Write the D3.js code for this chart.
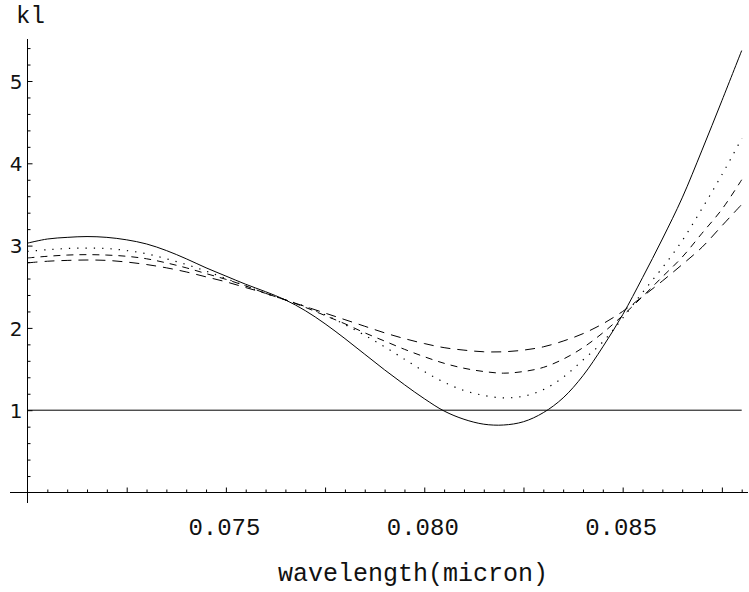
<!DOCTYPE html>
<html>
<head>
<meta charset="utf-8">
<script src="https://cdn.jsdelivr.net/npm/d3@7"></script>
<style>
  html, body { margin: 0; padding: 0; background: #fff; }
  svg { display: block; }
</style>
</head>
<body>
<svg id="chart" width="749" height="592"></svg>
<script>
// Sampled wavelength grid (micron)
const wavelength = [
  0.0700, 0.0705, 0.0710, 0.0715, 0.0720, 0.0725, 0.0730, 0.0735, 0.0740, 0.0745,
  0.0750, 0.0755, 0.0760, 0.0765, 0.0770, 0.0775, 0.0780, 0.0785, 0.0790, 0.0795,
  0.0800, 0.0805, 0.0810, 0.0815, 0.0820, 0.0825, 0.0830, 0.0835, 0.0840, 0.0845,
  0.0850, 0.0855, 0.0860, 0.0865, 0.0870, 0.0875, 0.0880
];

// kl for the four cases (solid, dotted, short dash, long dash)
const klSolid = [
  3.03, 3.08, 3.10, 3.11, 3.10, 3.07, 3.02, 2.94, 2.84, 2.73,
  2.63, 2.53, 2.44, 2.34, 2.21, 2.05, 1.87, 1.68, 1.49, 1.31,
  1.14, 0.99, 0.89, 0.83, 0.82, 0.86, 0.97, 1.15, 1.42, 1.77,
  2.16, 2.61, 3.08, 3.58, 4.16, 4.76, 5.37
];
const klDotted = [
  2.93, 2.95, 2.965, 2.97, 2.965, 2.94, 2.90, 2.84, 2.77, 2.69,
  2.60, 2.51, 2.42, 2.34, 2.26, 2.16, 2.04, 1.91, 1.77, 1.62,
  1.47, 1.34, 1.24, 1.18, 1.15, 1.17, 1.25, 1.40, 1.61, 1.83,
  2.12, 2.43, 2.73, 3.06, 3.45, 3.86, 4.30
];
const klShortDash = [
  2.85, 2.87, 2.885, 2.89, 2.885, 2.87, 2.84, 2.79, 2.73, 2.66,
  2.59, 2.51, 2.42, 2.34, 2.25, 2.15, 2.05, 1.94, 1.84, 1.74,
  1.65, 1.57, 1.51, 1.47, 1.45, 1.47, 1.52, 1.62, 1.76, 1.94,
  2.15, 2.38, 2.62, 2.86, 3.15, 3.44, 3.80
];
const klLongDash = [
  2.79, 2.81, 2.82, 2.825, 2.82, 2.80, 2.77, 2.73, 2.68, 2.62,
  2.56, 2.49, 2.42, 2.34, 2.26, 2.18, 2.10, 2.02, 1.94, 1.87,
  1.81, 1.76, 1.73, 1.71, 1.71, 1.73, 1.77, 1.84, 1.93, 2.05,
  2.20, 2.38, 2.57, 2.77, 2.98, 3.24, 3.50
];

// Horizontal reference level kl = 1
const referenceLevel = 1;

// Axis ticks and labels
const xMajorTicks = [0.0725, 0.0750, 0.0775, 0.0800, 0.0825, 0.0850, 0.0875];
const xLabelValues = [0.075, 0.080, 0.085];
const xTickLabels = ["0.075", "0.080", "0.085"];
const yTickValues = [1, 2, 3, 4, 5];
const yTickLabels = ["1", "2", "3", "4", "5"];
const xTitle = "wavelength(micron)";
const yTitle = "kl";

const svg = d3.select("#chart");

const x = d3.scaleLinear().domain([0.070, 0.088]).range([27.5, 741.7]);
const y = d3.scaleLinear().domain([0, 5]).range([492.5, 81]);

const ink = "#000";
const textInk = "#111";

// Minor tick positions
const xMinorTicks = d3.range(0.0705, 0.08801, 0.0005).filter(v =>
  !xMajorTicks.some(m => Math.abs(m - v) < 1e-7));
const yMinorTicks = d3.range(0.2, 5.41, 0.2).filter(v =>
  !yTickValues.some(m => Math.abs(m - v) < 1e-7));

// x axis
const xAxisG = svg.append("g").attr("transform", `translate(0,${y(0)})`);
xAxisG.append("g")
  .call(d3.axisBottom(x).tickValues(xMinorTicks).tickSizeInner(-3).tickSizeOuter(0).tickFormat(""))
  .call(g => g.select(".domain").remove());
xAxisG.append("g")
  .call(d3.axisBottom(x).tickValues(xMajorTicks).tickSizeInner(-5).tickSizeOuter(0)
    .tickFormat(d => {
      const i = xLabelValues.findIndex(v => Math.abs(v - d) < 1e-7);
      return i >= 0 ? xTickLabels[i] : "";
    }))
  .call(g => g.select(".domain").remove())
  .call(g => g.selectAll("text")
    .attr("y", 42.5).attr("dy", 0).attr("dx", -2)
    .attr("font-family", "'Liberation Mono', monospace")
    .attr("font-size", 24).attr("fill", textInk));
xAxisG.selectAll("line").attr("stroke", ink);
xAxisG.append("line")
  .attr("x1", 10).attr("x2", 748).attr("y1", 0).attr("y2", 0)
  .attr("stroke", ink).attr("stroke-width", 1);

// y axis
const yAxisG = svg.append("g").attr("transform", `translate(${x(0.070)},0)`);
yAxisG.append("g")
  .call(d3.axisLeft(y).tickValues(yMinorTicks).tickSizeInner(-3).tickSizeOuter(0).tickFormat(""))
  .call(g => g.select(".domain").remove());
yAxisG.append("g")
  .call(d3.axisLeft(y).tickValues(yTickValues).tickSizeInner(-5).tickSizeOuter(0).tickPadding(5)
    .tickFormat((d, i) => yTickLabels[i]))
  .call(g => g.select(".domain").remove())
  .call(g => g.selectAll("text")
    .attr("dy", "0.36em")
    .attr("font-family", "'DejaVu Sans', sans-serif")
    .attr("font-size", 20).attr("fill", textInk));
yAxisG.selectAll("line").attr("stroke", ink);
yAxisG.append("line")
  .attr("x1", 0).attr("x2", 0).attr("y1", 39).attr("y2", 503)
  .attr("stroke", ink).attr("stroke-width", 1);

// Reference line kl = 1
svg.append("line")
  .attr("x1", x(0.070)).attr("x2", x(0.088))
  .attr("y1", y(referenceLevel)).attr("y2", y(referenceLevel))
  .attr("stroke", ink).attr("stroke-width", 1);

// Curves
const line = d3.line().curve(d3.curveCatmullRom.alpha(0.5));
const series = [
  { values: klLongDash, dash: "10,7", width: 1 },
  { values: klShortDash, dash: "7,6", width: 1 },
  { values: klDotted, dash: "1.3,7", width: 1.2 },
  { values: klSolid, dash: null, width: 1 }
];
series.forEach(s => {
  svg.append("path")
    .attr("d", line(wavelength.map((w, i) => [x(w), y(s.values[i])])))
    .attr("fill", "none")
    .attr("stroke", ink)
    .attr("stroke-width", s.width)
    .attr("stroke-dasharray", s.dash);
});

// Axis titles
svg.append("text")
  .attr("x", 16).attr("y", 23)
  .attr("font-family", "'Liberation Mono', monospace")
  .attr("font-size", 24).attr("fill", textInk)
  .text(yTitle);
svg.append("text")
  .attr("x", 413).attr("y", 581)
  .attr("text-anchor", "middle")
  .attr("font-family", "'Liberation Mono', monospace")
  .attr("font-size", 25).attr("fill", textInk)
  .text(xTitle);
</script>
</body>
</html>
